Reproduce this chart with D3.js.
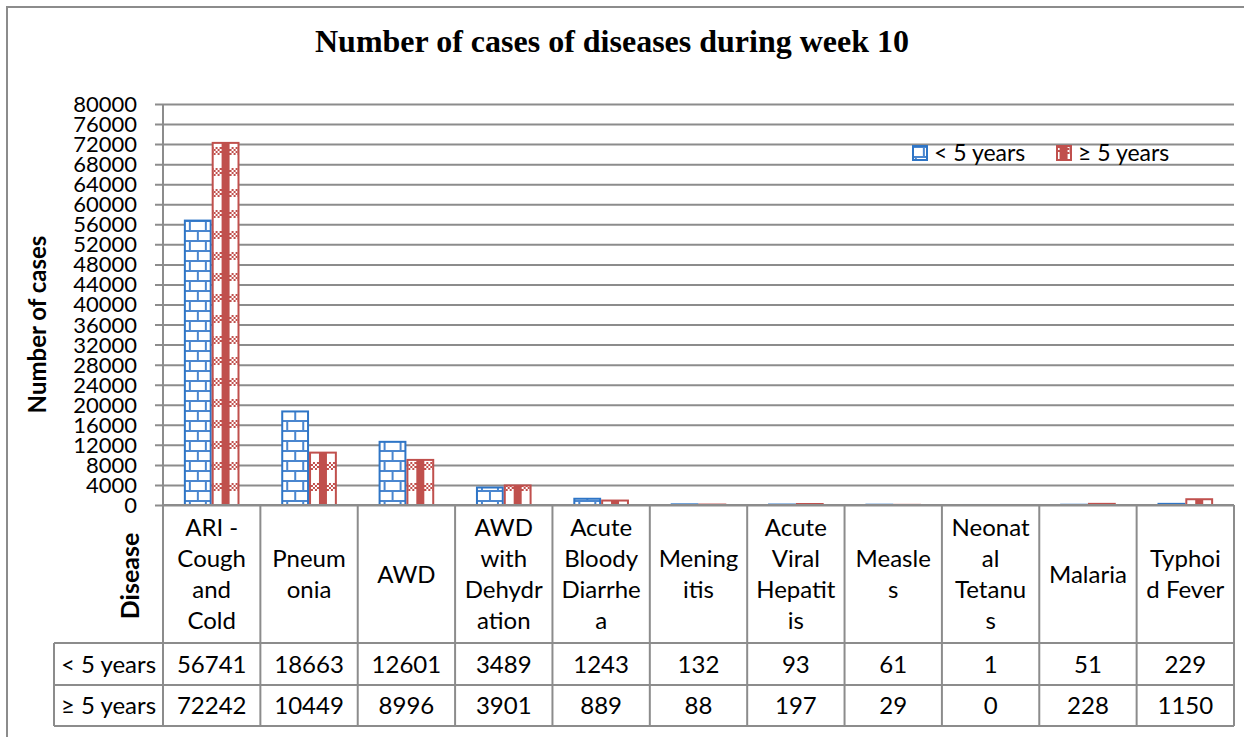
<!DOCTYPE html>
<html>
<head>
<meta charset="utf-8">
<script src="https://cdn.jsdelivr.net/npm/d3@7"></script>
<style>
  body { margin: 0; background: #fff; }
  svg { display: block; }
</style>
</head>
<body>
<svg id="chart"></svg>
<script>
const categories = ["ARI - Cough and Cold", "Pneumonia", "AWD", "AWD with Dehydration",
  "Acute Bloody Diarrhea", "Meningitis", "Acute Viral Hepatitis", "Measles",
  "Neonatal Tetanus", "Malaria", "Typhoid Fever"];
// how Excel wrapped the labels in the data table
const wrappedLabels = [["ARI -", "Cough", "and", "Cold"], ["Pneum", "onia"], ["AWD"],
  ["AWD", "with", "Dehydr", "ation"], ["Acute", "Bloody", "Diarrhe", "a"], ["Mening", "itis"],
  ["Acute", "Viral", "Hepatit", "is"], ["Measle", "s"], ["Neonat", "al", "Tetanu", "s"],
  ["Malaria"], ["Typhoi", "d Fever"]];
const seriesNames = ["< 5 years", "≥ 5 years"];
const under5 = [56741, 18663, 12601, 3489, 1243, 132, 93, 61, 1, 51, 229];
const over5 = [72242, 10449, 8996, 3901, 889, 88, 197, 29, 0, 228, 1150];
const yTicks = d3.range(0, 80001, 4000);

const width = 1244, height = 737;
const svg = d3.select("#chart").attr("width", width).attr("height", height);
const font = "Lato, 'Open Sans', sans-serif";
const grey = "#8c8c8c";
const blue = "#2e75c6", red = "#c0504d";

const plot = { left: 163, right: 1234, top: 104, bottom: 505 };
const tableLeft = 54;
const rowTops = [643, 685, 726];

// scales
const x = d3.scaleBand().domain(categories).range([plot.left, plot.right]);
const xSub = d3.scaleBand().domain(seriesNames).range([0, x.bandwidth()]).paddingOuter(0.75);
const y = d3.scaleLinear().domain([0, 80000]).range([plot.bottom, plot.top]);

// patterns (in each bar group's local space)
const defs = svg.append("defs");
const brick = defs.append("pattern").attr("id", "brick")
  .attr("patternUnits", "userSpaceOnUse").attr("width", 16).attr("height", 20)
  .attr("x", xSub(seriesNames[0]) + 1);
brick.append("rect").attr("width", 16).attr("height", 20).attr("fill", "#fff");
brick.append("path")
  .attr("d", "M0,1H16M0,11H16M5,1V11M13,11V21")
  .attr("stroke", "#4a86cf").attr("stroke-width", 2).attr("fill", "none");

const plaidW = 28;
const plaid = defs.append("pattern").attr("id", "plaid")
  .attr("patternUnits", "userSpaceOnUse").attr("width", plaidW).attr("height", 21)
  .attr("x", xSub(seriesNames[1]) + xSub.bandwidth() / 2 - plaidW / 2);
plaid.append("rect").attr("width", plaidW).attr("height", 21).attr("fill", "#fff");
for (let i = 0; i < plaidW / 2; i++) {
  for (let j = 0; j < 4; j++) {
    if ((i + j) % 2 === 0) {
      plaid.append("rect").attr("x", i * 2).attr("y", j * 2)
        .attr("width", 2).attr("height", 2).attr("fill", red);
    }
  }
}
plaid.append("rect").attr("x", 10).attr("y", 0).attr("width", 8).attr("height", 21).attr("fill", red);

// outer frame
svg.append("rect").attr("x", 7).attr("y", 7).attr("width", 1250).attr("height", 740)
  .attr("fill", "none").attr("stroke", grey).attr("stroke-width", 2);

// gridlines + axis
const yAxis = d3.axisLeft(y).tickValues(yTicks).tickSize(-(plot.right - plot.left)).tickFormat(d3.format("d"));
const gy = svg.append("g").attr("transform", `translate(${plot.left},0)`).call(yAxis);
gy.select(".domain").remove();
gy.selectAll(".tick line").attr("stroke", grey).attr("stroke-width", 2).attr("x1", -8);
gy.selectAll(".tick text").attr("x", -26).attr("dy", "0.34em")
  .attr("font-family", font).attr("font-size", 22).attr("fill", "#000");
svg.append("line").attr("x1", plot.left).attr("x2", plot.left).attr("y1", plot.top).attr("y2", rowTops[2])
  .attr("stroke", grey).attr("stroke-width", 2);

// bars
const rows = categories.map((c, i) => ({ cat: c, values: [under5[i], over5[i]] }));
const groups = svg.append("g").selectAll("g").data(rows).join("g")
  .attr("transform", d => `translate(${x(d.cat)},0)`);
groups.selectAll("rect")
  .data(d => d.values.map((v, k) => ({ key: seriesNames[k], v, k })))
  .join("rect")
  .attr("x", d => xSub(d.key) + 1)
  .attr("width", xSub.bandwidth() - 2)
  .attr("y", d => y(d.v))
  .attr("height", d => plot.bottom - y(d.v))
  .attr("fill", d => d.k === 0 ? "url(#brick)" : "url(#plaid)")
  .attr("stroke", d => d.k === 0 ? blue : red)
  .attr("stroke-width", 2);

// data table
const table = svg.append("g");
const tline = (x1, y1, x2, y2) => table.append("line")
  .attr("x1", x1).attr("y1", y1).attr("x2", x2).attr("y2", y2)
  .attr("stroke", grey).attr("stroke-width", 2);
tline(plot.left, plot.bottom, plot.right, plot.bottom);
rowTops.forEach(t => tline(tableLeft, t, plot.right, t));
tline(tableLeft, rowTops[0], tableLeft, rowTops[2]);
categories.forEach(c => tline(x(c) + x.bandwidth(), plot.bottom, x(c) + x.bandwidth(), rowTops[2]));

const lineH = 31;
const headMid = (plot.bottom + rowTops[0]) / 2;
categories.forEach((c, i) => {
  const lines = wrappedLabels[i];
  const t = table.append("text").attr("text-anchor", "middle")
    .attr("font-family", font).attr("font-size", 24).attr("fill", "#000");
  lines.forEach((ln, j) => {
    t.append("tspan").attr("x", x(c) + x.bandwidth() / 2)
      .attr("y", headMid + (j - (lines.length - 1) / 2) * lineH)
      .attr("dy", "0.36em").text(ln);
  });
});

[under5, over5].forEach((vals, r) => {
  const cy = (rowTops[r] + rowTops[r + 1]) / 2;
  table.append("text").attr("x", (tableLeft + plot.left) / 2).attr("y", cy).attr("dy", "0.36em")
    .attr("text-anchor", "middle").attr("font-family", font).attr("font-size", 24).text(seriesNames[r]);
  table.selectAll(null).data(vals).join("text")
    .attr("x", (d, i) => x(categories[i]) + x.bandwidth() / 2)
    .attr("y", cy).attr("dy", "0.36em").attr("text-anchor", "middle")
    .attr("font-family", font).attr("font-size", 24).text(d => d);
});

// titles
svg.append("text").attr("x", 612).attr("y", 52).attr("text-anchor", "middle")
  .attr("font-family", "'Liberation Serif', 'Times New Roman', serif").attr("font-weight", "bold")
  .attr("font-size", 32).text("Number of cases of diseases during week 10");

svg.append("text").attr("transform", `translate(46,${(plot.top + plot.bottom) / 2 + 20}) rotate(-90)`)
  .attr("text-anchor", "middle").attr("font-family", font).attr("font-weight", "bold")
  .attr("font-size", 24).text("Number of cases");

svg.append("text").attr("transform", `translate(139,${headMid + 2}) rotate(-90)`)
  .attr("text-anchor", "middle").attr("font-family", font).attr("font-weight", "bold")
  .attr("font-size", 25).text("Disease");

// legend
const legend = svg.append("g").selectAll("g").data(seriesNames).join("g")
  .attr("transform", (d, i) => `translate(${913 + i * 144},146)`);
legend.append("rect").attr("width", 14).attr("height", 14)
  .attr("fill", (d, i) => i === 0 ? "url(#brick)" : "url(#plaid)")
  .attr("stroke", (d, i) => i === 0 ? blue : red).attr("stroke-width", 2);
legend.append("text").attr("x", 21).attr("y", 7).attr("dy", "0.36em")
  .attr("font-family", font).attr("font-size", 23).text(d => d);
</script>
</body>
</html>
